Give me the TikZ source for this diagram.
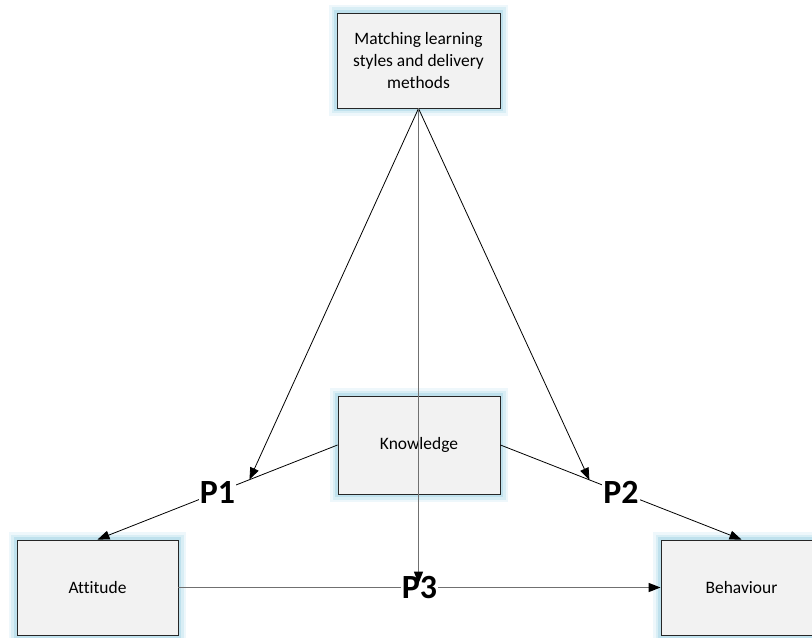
\documentclass[tikz,border=0pt]{standalone}
\usepackage{fontspec}
\setmainfont{Carlito}[Ligatures={NoCommon}]
\usetikzlibrary{arrows.meta,calc}
\definecolor{boxfill}{HTML}{F2F2F2}
\definecolor{glowA}{HTML}{EEF7FB}
\definecolor{glowB}{HTML}{D9EEF5}
\definecolor{glowC}{HTML}{BFE1ED}
\definecolor{lineg}{HTML}{707070}
\definecolor{boxline}{HTML}{262626}
\begin{document}
\begin{tikzpicture}[x=1bp,y=-1bp,
  box/.style={draw=boxline, fill=boxfill, line width=0.9bp,
    minimum width=162bp, minimum height=96bp, inner sep=0pt, align=center,
    font=\fontsize{17.5}{22}\selectfont,
    preaction={draw=glowA, line width=16bp},
    preaction={draw=glowB, line width=11bp},
    preaction={draw=glowC, line width=6bp}},
  barr/.style={draw=black, line width=0.8bp, -{Triangle[length=12bp,width=9bp,color=black]}},
  garr/.style={draw=lineg, line width=1.5bp, -{Triangle[length=12bp,width=9bp,color=black]}},
  plab/.style={font=\fontsize{34}{34}\selectfont\bfseries, fill=white, inner sep=1bp, text=black}]
\useasboundingbox (0,0) rectangle (812,638);
\node[box, minimum width=163bp, minimum height=95bp] (top) at (418.5,60.5) {Matching learning\\styles and delivery\\methods};
\node[box, minimum height=98bp] (k) at (419,445) {Knowledge};
\node[box, minimum width=161bp, minimum height=95bp] (a) at (97.5,587.5) {Attitude};
\node[box, minimum width=161bp, minimum height=95bp] (b) at (741.5,587.5) {Behaviour};
\draw[garr] (a.east) -- node[plab] (p3) {P3} (b.west);
\draw[barr] (k.west) -- node[plab] (p1) {P1} (a.north);
\draw[barr] (k.east) -- node[plab] (p2) {P2} (b.north);
\coordinate (p1tip) at ($(k.west)!0.367!(a.north)$);
\coordinate (p2tip) at ($(k.east)!0.369!(b.north)$);
\coordinate (p3line) at ($(a.east)!0.5!(b.west)$);
\coordinate (p3tip) at ([yshift=4bp]top.south |- p3line);
\draw[barr] (top.south) -- (p1tip);
\draw[barr] (top.south) -- (p2tip);
\draw[garr] (top.south) -- (p3tip);
\end{tikzpicture}
\end{document}
